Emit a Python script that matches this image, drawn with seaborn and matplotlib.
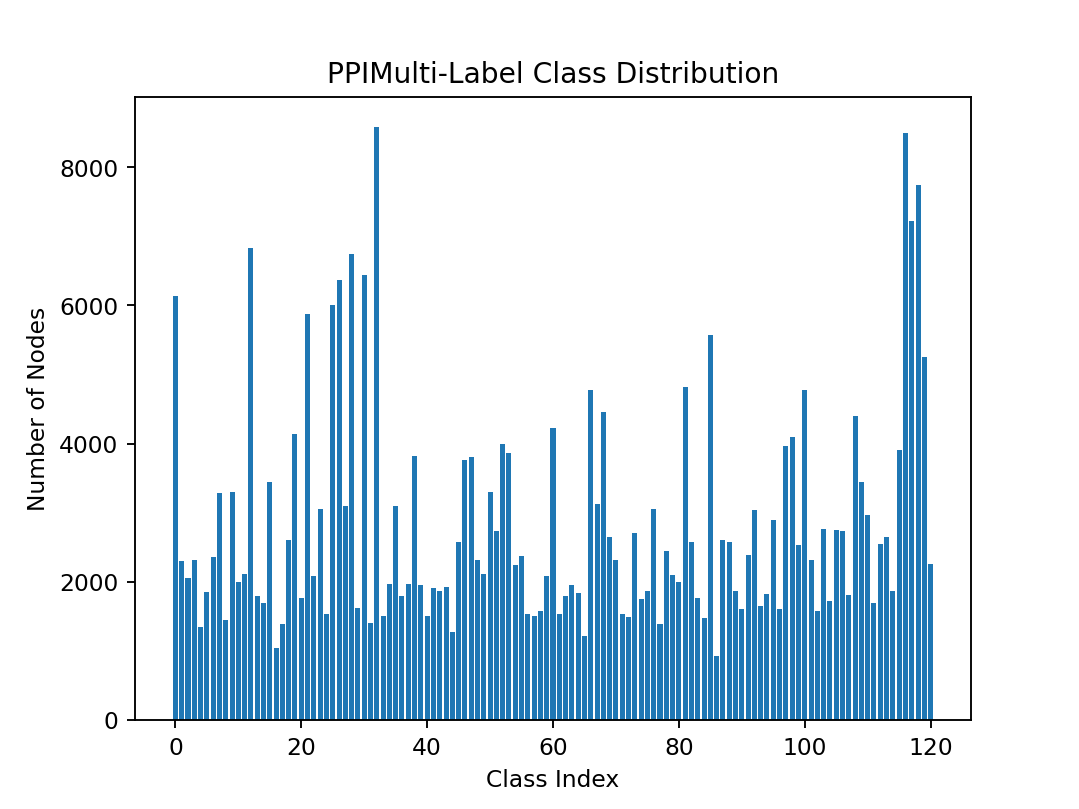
import matplotlib
matplotlib.use("Agg")
import matplotlib.pyplot as plt
import numpy as np
import pandas as pd
import seaborn as sns

# node counts per class (PPI multi-label)
counts = [
    6135, 2300, 2050, 2320, 1350, 1850, 2360, 3280, 1450, 3300,
    2000, 2110, 6830, 1790, 1690, 3440, 1040, 1390, 2600, 4140,
    1770, 5870, 2090, 3050, 1540, 6010, 6370, 3100, 6740, 1620,
    6440, 1400, 8590, 1500, 1970, 3090, 1790, 1970, 3820, 1960,
    1510, 1910, 1870, 1930, 1270, 2570, 3770, 3810, 2320, 2110,
    3300, 2730, 4000, 3860, 2250, 2370, 1530, 1500, 1580, 2090,
    4220, 1540, 1800, 1950, 1840, 1220, 4770, 3120, 4460, 2650,
    2310, 1540, 1490, 2700, 1750, 1860, 3050, 1390, 2440, 2100,
    1990, 4820, 2580, 1760, 1480, 5570, 930, 2610, 2580, 1860,
    1610, 2390, 3040, 1650, 1830, 2890, 1610, 3970, 4090, 2530,
    4770, 2310, 1580, 2770, 1720, 2750, 2730, 1810, 4400, 3440,
    2970, 1700, 2540, 2650, 1870, 3910, 8500, 7220, 7750, 5260,
    2260,
]
class_idx = list(range(len(counts)))

df = pd.DataFrame({"class_idx": class_idx, "count": counts})

fig, ax = plt.subplots(figsize=(6.4, 4.8), dpi=168.6)
sns.barplot(data=df, x="class_idx", y="count", native_scale=True,
            color="#1f77b4", saturation=1, width=0.8, linewidth=0, ax=ax)
ax.margins(x=0.05)
ax.set_title("PPIMulti-Label Class Distribution")
ax.set_xlabel("Class Index")
ax.set_ylabel("Number of Nodes")
fig.savefig("out.png", dpi=168.6)
